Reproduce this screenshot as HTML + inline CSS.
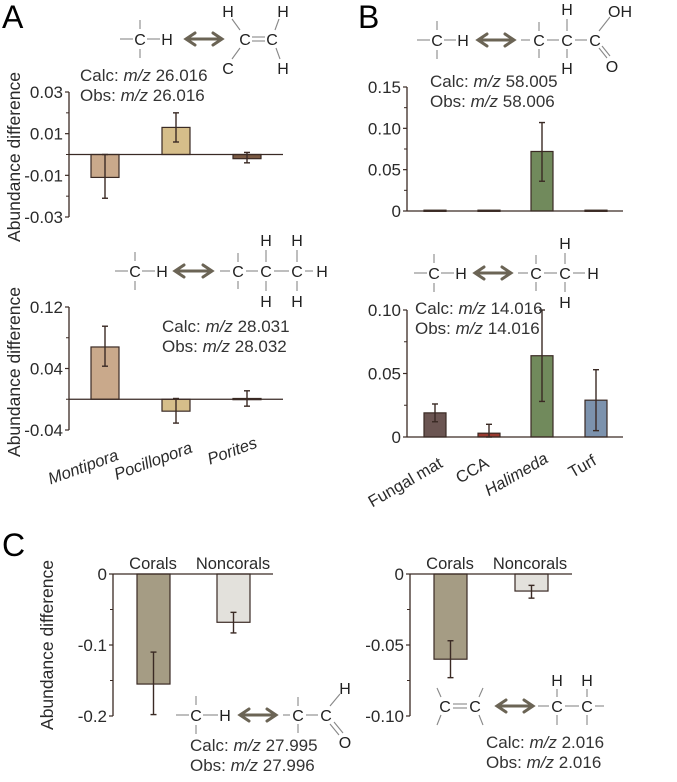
<!DOCTYPE html>
<html><head><meta charset="utf-8"><style>
html,body{margin:0;padding:0;background:#fff;}
svg{display:block;font-family:"Liberation Sans",Arial,sans-serif;}
</style></head><body>
<svg id="fig" width="677" height="782" viewBox="0 0 677 782"></svg>
<script>
// ---- Panel A top (m/z 26.016)
const aCats = ["Montipora","Pocillopora","Porites"];
const aTopVals = [-0.011, 0.013, -0.002];
const aTopErrHi = [0.0, 0.020, 0.001];
const aTopErrLo = [-0.021, 0.006, -0.004];
const aTopTicks = [0.03, 0.01, -0.01, -0.03];
const aTopTickLabels = ["0.03","0.01","-0.01","-0.03"];
// ---- Panel A bottom (m/z 28.031)
const aBotVals = [0.068, -0.0155, 0.001];
const aBotErrHi = [0.095, 0.001, 0.011];
const aBotErrLo = [0.043, -0.031, -0.009];
const aBotTicks = [0.12, 0.04, -0.04];
const aBotTickLabels = ["0.12","0.04","-0.04"];
// ---- Panel B top (m/z 58.005)
const bCats = ["Fungal mat","CCA","Halimeda","Turf"];
const bTopVals = [0.001, 0.001, 0.072, 0.001];
const bTopErrHi = [0.001, 0.001, 0.107, 0.001];
const bTopErrLo = [0.001, 0.001, 0.036, 0.001];
const bTopTicks = [0.15, 0.10, 0.05, 0];
const bTopTickLabels = ["0.15","0.10","0.05","0"];
// ---- Panel B bottom (m/z 14.016)
const bBotVals = [0.019, 0.003, 0.064, 0.029];
const bBotErrHi = [0.026, 0.010, 0.100, 0.053];
const bBotErrLo = [0.012, 0.0, 0.028, 0.005];
const bBotTicks = [0.10, 0.05, 0];
const bBotTickLabels = ["0.10","0.05","0"];
// ---- Panel C left (m/z 27.995)
const cCats = ["Corals","Noncorals"];
const cLeftVals = [-0.155, -0.068];
const cLeftErrHi = [-0.110, -0.054];
const cLeftErrLo = [-0.198, -0.083];
const cLeftTicks = [0, -0.1, -0.2];
const cLeftTickLabels = ["0","-0.1","-0.2"];
// ---- Panel C right (m/z 2.016)
const cRightVals = [-0.060, -0.012];
const cRightErrHi = [-0.047, -0.008];
const cRightErrLo = [-0.073, -0.017];
const cRightTicks = [0, -0.05, -0.10];
const cRightTickLabels = ["0","-0.05","-0.10"];

const NS = "http://www.w3.org/2000/svg";
const svg = document.getElementById("fig");
const LINE = "#3a2a24";
function mk(tag, attrs, parent){
  const e = document.createElementNS(NS, tag);
  for (const k in attrs) e.setAttribute(k, attrs[k]);
  (parent||svg).appendChild(e);
  return e;
}
function txt(x,y,s,opts,parent){
  const t = mk("text",{x:x,y:y,"font-size":(opts&&opts.size)||16,fill:(opts&&opts.fill)||"#2a2a2a","text-anchor":(opts&&opts.anchor)||"start"},parent);
  if (opts && opts.italic) t.setAttribute("font-style","italic");
  if (opts && opts.rot) t.setAttribute("transform","rotate("+opts.rot+" "+x+" "+y+")");
  t.textContent = s;
  return t;
}

function chart(cfg){
  const g = mk("g",{});
  
  
  const yOf = v => cfg.y1 + (v - cfg.v1) * (cfg.y2 - cfg.y1) / (cfg.v2 - cfg.v1);
  const ax = mk("line",{x1:cfg.ax,x2:cfg.ax,y1:yOf(cfg.axTop),y2:yOf(cfg.axBot),stroke:LINE,"stroke-width":1.3},g);
  
  
  cfg.ticks.forEach((v,i)=>{
    mk("line",{x1:cfg.ax-4,x2:cfg.ax,y1:yOf(v),y2:yOf(v),stroke:LINE,"stroke-width":1.2},g);
    const t = txt(cfg.ax-6, yOf(v)+6, cfg.tickLabels[i], {anchor:"end",size:17}, g);
    
    
  });
  (cfg.minor||[]).forEach(v=>{
    mk("line",{x1:cfg.ax-3,x2:cfg.ax,y1:yOf(v),y2:yOf(v),stroke:LINE,"stroke-width":1},g);
  });
  const y0 = yOf(0);
  cfg.vals.forEach((v,i)=>{
    const x = cfg.barX[i];
    const yv = yOf(v);
    const r = mk("rect",{x:x,y:Math.min(y0,yv),width:cfg.barW,height:Math.max(Math.abs(yv-y0),1.2),fill:cfg.colors[i],stroke:LINE,"stroke-width":1.2},g);
    
    
    const cx = x + cfg.barW/2;
    const yh = yOf(cfg.hi[i]), yl = yOf(cfg.lo[i]);
    if (Math.abs(yh-yl) > 1.5){
      const eb = mk("g",{stroke:LINE,"stroke-width":1.4},g);
      
      
      mk("line",{x1:cx,x2:cx,y1:yh,y2:yl},eb);
      mk("line",{x1:cx-3,x2:cx+3,y1:yh,y2:yh},eb);
      mk("line",{x1:cx-3,x2:cx+3,y1:yl,y2:yl},eb);
    }
  });
  const zl = mk("line",{x1:cfg.ax,x2:cfg.zEnd,y1:y0,y2:y0,stroke:LINE,"stroke-width":1.3},g);
  
  
  return {g:g,yOf:yOf};
}

chart({name:"chart-a-top",ax:69,v1:0.03,y1:92,v2:-0.03,y2:217,axTop:0.03,axBot:-0.03,
  ticks:aTopTicks,tickLabels:aTopTickLabels,minor:[0.02,0,-0.02],
  vals:aTopVals,hi:aTopErrHi,lo:aTopErrLo,cats:aCats,barX:[91,162,233],barW:28,
  colors:["#c9a98b","#d6be8a","#7a5a44"],zEnd:283});
chart({name:"chart-a-bottom",ax:69,v1:0.12,y1:307,v2:-0.04,y2:430,axTop:0.12,axBot:-0.04,
  ticks:aBotTicks,tickLabels:aBotTickLabels,minor:[0.08,0],
  vals:aBotVals,hi:aBotErrHi,lo:aBotErrLo,cats:aCats,barX:[91,162,233],barW:28,
  colors:["#c9a98b","#d6be8a","#7a5a44"],zEnd:283});
chart({name:"chart-b-top",ax:407,v1:0.15,y1:87,v2:0,y2:211,axTop:0.15,axBot:0,
  ticks:bTopTicks,tickLabels:bTopTickLabels,minor:[0.125,0.075,0.025],
  vals:bTopVals,hi:bTopErrHi,lo:bTopErrLo,cats:bCats,barX:[424,478,531,585],barW:22,
  colors:["#6b5552","#9a3a30","#718a5c","#7c92ad"],zEnd:623});
chart({name:"chart-b-bottom",ax:407,v1:0.10,y1:310,v2:0,y2:437,axTop:0.10,axBot:0,
  ticks:bBotTicks,tickLabels:bBotTickLabels,minor:[0.075,0.025],
  vals:bBotVals,hi:bBotErrHi,lo:bBotErrLo,cats:bCats,barX:[424,478,531,585],barW:22,
  colors:["#6b5552","#9a3a30","#718a5c","#7c92ad"],zEnd:623});
chart({name:"chart-c-left",ax:113,v1:0,y1:574,v2:-0.2,y2:716,axTop:0,axBot:-0.2,
  ticks:cLeftTicks,tickLabels:cLeftTickLabels,minor:[-0.05,-0.15],
  vals:cLeftVals,hi:cLeftErrHi,lo:cLeftErrLo,cats:cCats,barX:[137,217],barW:33,
  colors:["#a59c84","#e3e1dc"],zEnd:273});
chart({name:"chart-c-right",ax:410,v1:0,y1:574,v2:-0.10,y2:716,axTop:0,axBot:-0.10,
  ticks:cRightTicks,tickLabels:cRightTickLabels,minor:[-0.025,-0.075],
  vals:cRightVals,hi:cRightErrHi,lo:cRightErrLo,cats:cCats,barX:[434,515],barW:33,
  colors:["#a59c84","#e3e1dc"],zEnd:572});

[["A",2,28],["B",358,28],["C",2,556]].forEach(p=>{
  const t = txt(p[1],p[2],p[0],{size:32,fill:"#000"});
  
  
});
[[20,157],[20,372],[53,645]].forEach(p=>{
  const t = txt(p[0],p[1],"Abundance difference",{size:17.5,anchor:"middle",rot:-90});
  
  
});
[[85,466],[155,460],[234,450]].forEach((p,i)=>{
  const t = txt(p[0],p[1]+6,aCats[i],{size:16.5,anchor:"middle",italic:true,rot:-20});
  
  
});
[[408,482],[475,470],[519,474],[585,466]].forEach((p,i)=>{
  const t = txt(p[0],p[1]+5,bCats[i],{size:16.5,anchor:"middle",italic:i==2,rot:-30});
  
  
});
[[153,569],[233,569],[450,569],[530,569]].forEach((p,i)=>{
  const t = txt(p[0],p[1],cCats[i%2],{size:16.5,anchor:"middle"});
  
  
});
function mz(x,y,calc,obs){
  const g = mk("g",{});
  
  
  [["Calc: ",calc,y],["Obs: ",obs,y+20]].forEach(r=>{
    const t = mk("text",{x:x,y:r[2],"font-size":17,fill:"#333"},g);
    const a = mk("tspan",{},t); a.textContent = r[0];
    const b = mk("tspan",{"font-style":"italic"},t); b.textContent = "m/z";
    const c = mk("tspan",{},t); c.textContent = " " + r[1];
  });
}
mz(80,81,"26.016","26.016");
mz(162,332,"28.031","28.032");
mz(430,87,"58.005","58.006");
mz(415,314,"14.016","14.016");
mz(190,751,"27.995","27.996");
mz(486,748,"2.016","2.016");

const GB = "#888";
function mol(name){ const g = mk("g",{});   return g; }
function at(g,x,y,s){ txt(x,y+6,s,{size:16,anchor:"middle",fill:"#222"},g); }
function bd(g,x1,y1,x2,y2){ mk("line",{x1:x1,y1:y1,x2:x2,y2:y2,stroke:GB,"stroke-width":1.1},g); }
function arrow(g,x1,x2,y){
  const a = mk("g",{stroke:"#6b6455","stroke-width":3,fill:"none","stroke-linecap":"round"},g);
  mk("line",{x1:x1+2,x2:x2-2,y1:y,y2:y},a);
  mk("polyline",{points:(x1+9)+","+(y-6)+" "+x1+","+y+" "+(x1+9)+","+(y+6)},a);
  mk("polyline",{points:(x2-9)+","+(y-6)+" "+x2+","+y+" "+(x2-9)+","+(y+6)},a);
}
function ch(g,cx,hx,y){
  bd(g,cx-20,y,cx-7,y); at(g,cx,y,"C"); bd(g,cx+7,y,hx-7,y); at(g,hx,y,"H");
  bd(g,cx,y-19,cx,y-10); bd(g,cx,y+10,cx,y+19);
}
let m = mol("molecule-a-top"); ch(m,140,167,39); arrow(m,186,222,39);
at(m,245,39,"C"); at(m,272,39,"C"); bd(m,252,37,265,37); bd(m,252,41,265,41);
at(m,228,11,"H"); at(m,283,11,"H"); at(m,228,68,"C"); at(m,283,68,"H");
bd(m,232,19,240,30); bd(m,279,19,275,30); bd(m,240,48,232,59); bd(m,276,48,280,59);
m = mol("molecule-a-bottom"); ch(m,135,162,271); arrow(m,175,212,271);
bd(m,220,271,230,271); at(m,238,271,"C"); bd(m,246,271,258,271); at(m,266,271,"C"); bd(m,274,271,289,271); at(m,297,271,"C"); bd(m,305,271,313,271); at(m,322,271,"H");
bd(m,238,253,238,262); bd(m,238,281,238,289);
at(m,266,240,"H"); at(m,297,240,"H"); at(m,266,301,"H"); at(m,297,301,"H");
bd(m,266,250,266,262); bd(m,297,250,297,262); bd(m,266,281,266,291); bd(m,297,281,297,291);
m = mol("molecule-b-top"); ch(m,437,463,40); arrow(m,478,514,40);
bd(m,521,40,530,40); at(m,539,40,"C"); bd(m,547,40,559,40); at(m,567,40,"C"); bd(m,575,40,587,40); at(m,595,40,"C");
bd(m,539,22,539,31); bd(m,539,49,539,58);
at(m,567,9,"H"); bd(m,567,19,567,31); at(m,567,68,"H"); bd(m,567,49,567,58);
txt(620,17,"OH",{size:16,fill:"#222",anchor:"middle"},m); bd(m,599,31,610,17);
at(m,612,66,"O"); bd(m,599,48,607,58); bd(m,602,46,610,56);
m = mol("molecule-b-bottom"); ch(m,434,461,273); arrow(m,475,511,273);
bd(m,518,273,528,273); at(m,536,273,"C"); bd(m,544,273,557,273); at(m,565,273,"C"); bd(m,573,273,585,273); at(m,593,273,"H");
bd(m,536,255,536,264); bd(m,536,282,536,291);
at(m,565,243,"H"); bd(m,565,253,565,264); at(m,565,302,"H"); bd(m,565,282,565,292);
m = mol("molecule-c-left"); ch(m,196,225,715); arrow(m,240,276,715);
bd(m,283,715,290,715); at(m,298,715,"C"); bd(m,306,715,318,715); at(m,326,715,"C");
bd(m,298,697,298,706); bd(m,298,724,298,733);
at(m,345,688,"H"); bd(m,330,706,340,694); at(m,345,742,"O"); bd(m,330,724,339,735); bd(m,334,722,343,733);
m = mol("molecule-c-right");
at(m,445,706,"C"); at(m,475,706,"C"); bd(m,453,704,467,704); bd(m,453,708,467,708);
bd(m,437,688,441,697); bd(m,441,715,437,725); bd(m,483,688,479,697); bd(m,479,715,483,725);
arrow(m,497,533,706);
bd(m,538,706,549,706); at(m,557,706,"C"); bd(m,565,706,579,706); at(m,587,706,"C"); bd(m,595,706,604,706);
at(m,557,680,"H"); at(m,587,680,"H"); bd(m,557,689,557,697); bd(m,587,689,587,697);
bd(m,557,715,557,725); bd(m,587,715,587,725);
</script>
</body></html>
